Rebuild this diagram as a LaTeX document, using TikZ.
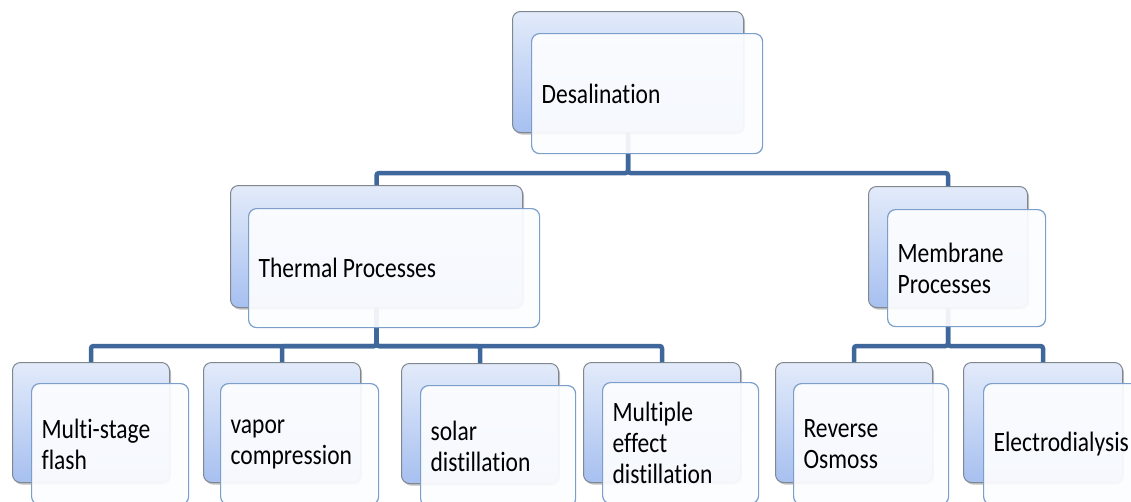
\documentclass[tikz,border=0pt]{standalone}
\usepackage{fontspec}
\setmainfont{Carlito}[FakeStretch=0.84,Ligatures=NoCommon]
\usetikzlibrary{shadows}
\definecolor{connC}{HTML}{3F679B}
\definecolor{backTop}{HTML}{E3EBFA}
\definecolor{backBot}{HTML}{A7C0F0}
\definecolor{backBorder}{HTML}{7F8790}
\definecolor{frontBorder}{HTML}{7C9ECB}
\definecolor{frontFill}{HTML}{FCFDFF}
\begin{document}
\begin{tikzpicture}[x=1pt,y=-1pt,
  backbox/.style={draw=backBorder,line width=1pt,rounded corners=8pt,
    top color=backTop,bottom color=backBot,anchor=north west,
    drop shadow={shadow xshift=1.5pt,shadow yshift=-2pt,opacity=0.35,fill=black!70},
    inner sep=0pt},
  frontbox/.style={draw=frontBorder,line width=1.2pt,rounded corners=8pt,
    fill=frontFill,fill opacity=0.93,text opacity=1,anchor=north west,
    inner xsep=10pt,inner ysep=0pt,align=left,
    font=\fontsize{28}{31}\selectfont,text=black},
  conn/.style={draw=connC,line width=4.5pt,rounded corners=2.5pt}]
\useasboundingbox (0,0) rectangle (1131,501);
\clip (0,0) rectangle (1131,501);
% back boxes
\node[backbox,minimum width=231pt,minimum height=121pt] (bDes) at (512,11) {};
\node[backbox,minimum width=292pt,minimum height=122pt] (bTh) at (230,185) {};
\node[backbox,minimum width=159pt,minimum height=121pt] (bMem) at (868,186) {};
\node[backbox,minimum width=157pt,minimum height=120pt] (bMsf) at (12,362) {};
\node[backbox,minimum width=157pt,minimum height=120pt] (bVap) at (203,362) {};
\node[backbox,minimum width=157pt,minimum height=120pt] (bSol) at (401,363) {};
\node[backbox,minimum width=157pt,minimum height=120pt] (bMed) at (583,362) {};
\node[backbox,minimum width=157pt,minimum height=120pt] (bRo) at (775,362) {};
\node[backbox,minimum width=159pt,minimum height=120pt] (bEd) at (963,362) {};
% connectors
\draw[conn] (bDes.south) -- ++(0,40) -| (bTh.north);
\draw[conn] (bDes.south) -- ++(0,40) -| (bMem.north);
\draw[conn] (bTh.south) -- ++(0,38) -| (bMsf.north);
\draw[conn] (bTh.south) -- ++(0,38) -| (bVap.north);
\draw[conn] (bTh.south) -- ++(0,38) -| (bSol.north);
\draw[conn] (bTh.south) -- ++(0,38) -| (bMed.north);
\draw[conn] (bMem.south) -- ++(0,38) -| (bRo.north);
\draw[conn] (bMem.south) -- ++(0,38) -| (bEd.north);
% front boxes
\node[frontbox,text width=211pt,minimum height=120pt] (fDes) at (531,33) {Desalination};
\node[frontbox,text width=271pt,minimum height=119pt] (fTh) at (248,208) {Thermal\hspace{5pt}Processes};
\node[frontbox,text width=138pt,minimum height=117pt] (fMem) at (887,209) {Membrane\\Processes};
\node[frontbox,text width=137pt,minimum height=121pt] (fMsf) at (31,383) {Multi-stage\\flash};
\node[frontbox,text width=138pt,minimum height=121pt] (fVap) at (220,383) {vapor\\compression};
\node[frontbox,text width=135pt,minimum height=121pt] (fSol) at (420,385) {solar\\distillation};
\node[frontbox,text width=136pt,minimum height=121pt] (fMed) at (602,382) {Multiple\\effect\\distillation};
\node[frontbox,text width=135pt,minimum height=121pt] (fRo) at (793,383) {Reverse\\Osmoss};
\node[frontbox,text width=140pt,minimum height=121pt] (fEd) at (983,383) {Electrodialysis};
\end{tikzpicture}
\end{document}
